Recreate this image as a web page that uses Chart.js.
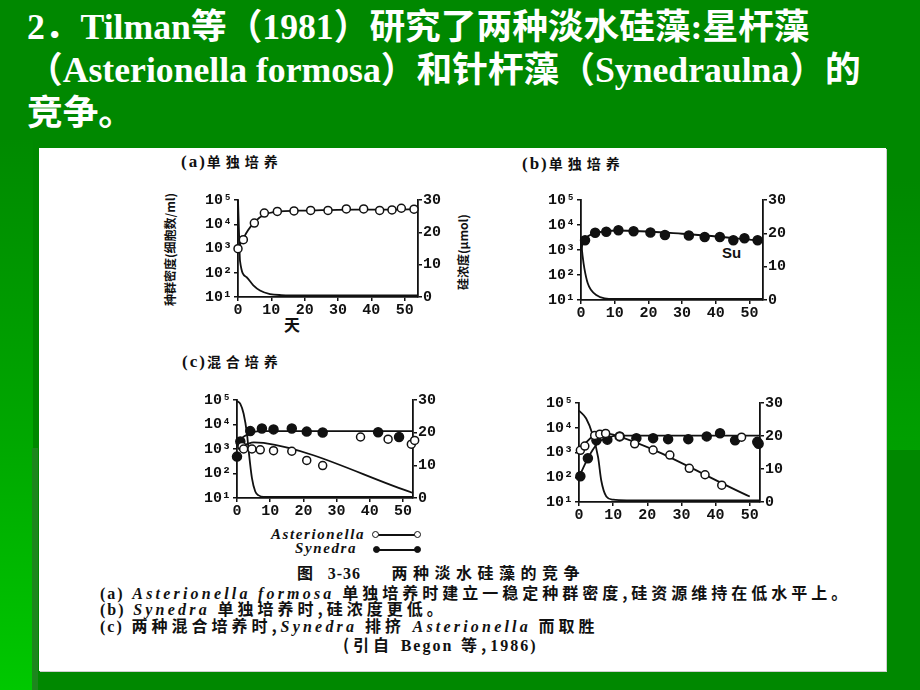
<!DOCTYPE html>
<html>
<head>
<meta charset="utf-8">
<script src="https://cdn.jsdelivr.net/npm/chart.js@4.4.1/dist/chart.umd.min.js"></script>
<style>
  body { margin: 0; background: #008800; }
  #slide { position: relative; width: 920px; height: 690px; overflow: hidden; background: #008800;
           font-family: "Liberation Serif", "Noto Sans CJK SC", serif; text-spacing-trim: space-all; }
  #leftStrip { position: absolute; left: 0; top: 140px; width: 33px; height: 550px;
               background: linear-gradient(#008a00, #00a800 55%, #00c800); }
  #darkStripe { position: absolute; left: 32px; top: 448px; width: 6px; height: 242px; background: #1d861d; }
  #rightStrip { position: absolute; left: 887px; top: 180px; width: 33px; height: 270px;
                background: linear-gradient(#008800, #00a000); }
  .title { position: absolute; left: 27px; color: #fff; font-weight: bold; font-size: 35.7px; line-height: 36px; white-space: nowrap; }
  #paper { position: absolute; left: 39px; top: 148px; width: 847px; height: 523px; background: #fff;
           box-shadow: 1px 1px 0 #cfcfcf; }
  canvas { position: absolute; }
  .t { position: absolute; white-space: nowrap; color: #111; font-weight: bold; }
  .lab { font-family: "Noto Sans CJK SC", sans-serif; font-size: 14px; line-height: 14px; letter-spacing: 5px; }
  .lab b { font-family: "Liberation Serif"; font-size: 17px; letter-spacing: 2px; }
  .vert { transform-origin: 0 0; transform: rotate(-90deg); font-family: "Noto Sans CJK SC", sans-serif; font-size: 12px; line-height: 12px; }
  .cap { font-family: "Noto Sans CJK SC", sans-serif; font-size: 16px; line-height: 16px; letter-spacing: 4px; }
  .cap i { font-family: "Liberation Serif"; font-size: 16px; letter-spacing: 3.2px; }
  .cap b { font-family: "Liberation Serif"; font-size: 16px; letter-spacing: 2px; }
  .leg { font-family: "Liberation Serif"; font-size: 15px; line-height: 15px; font-style: italic; letter-spacing: 1.6px; }
  .sym { position: absolute; height: 1.5px; background: #111; }
  .dot { position: absolute; width: 5px; height: 5px; border: 1.5px solid #111; border-radius: 50%; background: #fff; }
  .dot.f { background: #111; }
</style>
</head>
<body>
<div id="slide">
  <div id="leftStrip"></div>
  <div id="darkStripe"></div>
  <div id="rightStrip"></div>
  <div class="title" style="top:9px">2．Tilman等（1981）研究了两种淡水硅藻:星杆藻</div>
  <div class="title" style="top:52px">（Asterionella formosa）和针杆藻（Synedraulna）的</div>
  <div class="title" style="top:95px">竞争。</div>
  <div id="paper"></div>

  <div class="t lab" style="left:181px;top:154px"><b>(a)</b>单独培养</div>
  <div class="t lab" style="left:522px;top:156px"><b>(b)</b>单独培养</div>
  <div class="t lab" style="left:182px;top:354px"><b>(c)</b>混合培养</div>
  <div class="t vert" style="left:164px;top:306px">种群密度(细胞数/ml)</div>
  <div class="t vert" style="left:457px;top:290px">硅浓度(μmol)</div>
  <div class="t lab" style="left:284px;top:317px;font-size:16px">天</div>
  <div class="t" style="left:722px;top:244px;font-family:'Liberation Sans';font-size:15px">Su</div>

  <canvas id="chartA"></canvas>
  <canvas id="chartB"></canvas>
  <canvas id="chartC"></canvas>
  <canvas id="chartD"></canvas>

  <div class="t leg" style="left:271px;top:527px">Asterionella</div>
  <div class="sym" style="left:376px;top:534px;width:41px"></div>
  <div class="dot" style="left:372px;top:531px"></div>
  <div class="dot" style="left:414px;top:531px"></div>
  <div class="t leg" style="left:295px;top:541px">Synedra</div>
  <div class="sym" style="left:377px;top:549px;width:42px"></div>
  <div class="dot f" style="left:373px;top:546px"></div>
  <div class="dot f" style="left:414px;top:546px"></div>

  <div class="t cap" style="left:297px;top:564px;letter-spacing:5.5px">图 <b style="letter-spacing:1px">3-36</b>　 两种淡水硅藻的竞争</div>
  <div class="t cap" style="left:100px;top:584px"><b>(a)</b> <i>Asterionella formosa</i> 单独培养时建立一稳定种群密度,硅资源维持在低水平上。</div>
  <div class="t cap" style="left:100px;top:600px"><b>(b)</b> <i>Synedra</i> 单独培养时,硅浓度更低。</div>
  <div class="t cap" style="left:100px;top:617px"><b>(c)</b> 两种混合培养时,<i>Synedra</i> 排挤 <i>Asterionella</i> 而取胜</div>
  <div class="t cap" style="left:343px;top:636px">(引自 <b>Begon</b> 等,<b>1986)</b></div>
</div>

<script>
"use strict";
// shared axes
const dayTicks = [0, 10, 20, 30, 40, 50];
const logTickValues = [10, 100, 1000, 10000, 100000];
const logTickLabels = ["10¹", "10²", "10³", "10⁴", "10⁵"];
const siTicks = [0, 10, 20, 30];

// (a) Asterionella alone
const astAloneDays = [0, 1.6, 4.9, 7.9, 11.8, 16.8, 21.8, 27, 32.5, 37.7, 42.5, 46.2, 49, 52.8];
const astAloneCells = [980, 2300, 11200, 28800, 33900, 35500, 37200, 37200, 42700, 42700, 37200, 38900, 45700, 41700];
const astAloneFitDays = [0, 1, 3, 5, 8, 12, 18, 25, 35, 45, 54];
const astAloneFitCells = [1000, 1800, 5600, 12600, 25100, 33100, 36300, 38000, 39800, 39800, 41700];
const siAloneADays = [0, 0.3, 0.6, 2.6, 4.6, 6.6, 9.6, 13, 20, 54];
const siAloneA = [30, 20, 11.2, 6.1, 3.6, 2.0, 0.9, 0.6, 0.5, 0.5];

// (b) Synedra alone
const synAloneDays = [1.2, 4.2, 7.5, 11.1, 15.6, 20.6, 24.9, 32, 36.7, 41.2, 45.2, 48.5, 52.4];
const synAloneCells = [2450, 4900, 5370, 6170, 5620, 5010, 3980, 3800, 3310, 3310, 2450, 2950, 2450];
const synAloneFitDays = [0, 0.6, 2.2, 4.7, 10.6, 30, 54];
const synAloneFitCells = [930, 2000, 3630, 4900, 6030, 4470, 2340];
const siAloneBDays = [0, 0.5, 1, 2, 3, 4.5, 7, 10, 54];
const siAloneB = [18, 13, 9.5, 5, 3, 1.5, 0.5, 0.3, 0.3];

// (c) mixed culture, left
const astMixCDays = [1.5, 2, 4.5, 7, 11, 16.5, 21, 25.8, 37.2, 45.5, 52.5, 53.5];
const astMixCCells = [1260, 1000, 1000, 930, 850, 810, 340, 210, 3090, 2510, 1580, 2240];
const synMixCDays = [0, 1, 4, 7.5, 11, 16.5, 21, 25.8, 42.5, 48.8];
const synMixCCells = [490, 2040, 5370, 6920, 6310, 6920, 5130, 4680, 4790, 3090];
const synFitCDays = [0, 2, 4, 6, 8, 53];
const synFitCCells = [2140, 3160, 4470, 5250, 5370, 5370];
const astFitCDays = [0.5, 3, 5, 8, 53];
const astFitCCells = [1180, 1580, 1860, 1780, 16];
const siMixCDays = [0, 1, 2, 3, 3.5, 4.5, 5.5, 6.5, 8, 53];
const siMixC = [29.7, 28.8, 25.8, 19.7, 14.6, 6.1, 2.0, 0.8, 0.3, 0.3];

// (c) mixed culture, right
const astMixDDays = [0.4, 1.7, 4.6, 6.1, 7.8, 11.9, 16.3, 21.7, 26.6, 32.3, 36.9, 41.8, 47.6];
const astMixDCells = [1230, 1820, 4900, 5500, 5890, 4470, 2240, 1260, 790, 230, 126, 48, 4170];
const synMixDDays = [0.4, 2.6, 5.1, 8.3, 11.9, 16.8, 21.7, 26.1, 32, 37.4, 41.3, 45.7, 52.2, 52.6];
const synMixDCells = [110, 590, 3090, 3310, 4470, 3800, 3800, 3470, 3470, 4470, 6030, 3090, 2690, 2240];
const synFitDDays = [0, 2, 4, 6, 9, 11, 53];
const synFitDCells = [100, 400, 1260, 2820, 4170, 4790, 4790];
const astFitDDays = [0, 2, 4, 7, 10, 50];
const astFitDCells = [1260, 2510, 4470, 6030, 5250, 16.6];
const siMixDDays = [0, 2.1, 4, 5.6, 6.5, 8, 10, 14, 53];
const siMixD = [27.7, 25.3, 20.4, 13.5, 6.6, 1.7, 0.7, 0.5, 0.5];

const INK = "#111";
const tickFont = { family: "'Liberation Mono', 'DejaVu Sans Mono', monospace", size: 15, weight: "bold" };

function pts(xs, ys) {
  return xs.map((x, i) => ({ x: x, y: ys[i] }));
}
function markers(xs, ys, filled) {
  return {
    data: pts(xs, ys), showLine: false, yAxisID: "y", clip: false,
    pointRadius: filled ? 4.5 : 4, pointBorderWidth: 1.5,
    pointBorderColor: INK, pointBackgroundColor: filled ? INK : "#fff",
  };
}
function curve(xs, ys, axis) {
  return {
    data: pts(xs, ys), yAxisID: axis, borderColor: INK, borderWidth: 1.8,
    pointRadius: 0, cubicInterpolationMode: "monotone", fill: false, clip: false,
  };
}
function fixedTicks(list) {
  return (s) => { s.ticks = list.map((v) => ({ value: v })); };
}

function panel(id, box, xMax, datasets) {
  const L = 46, R = 30, B = 22, T = 9, P = 4;
  const cv = document.getElementById(id);
  cv.width = box.right - box.left + L + R + P;
  cv.height = box.bottom - box.top + T + B;
  cv.style.left = box.left - L + "px";
  cv.style.top = box.top - T + "px";
  const axisGrid = { drawOnChartArea: false, color: INK, lineWidth: 1.5, tickLength: 4 };
  const axisBorder = { color: INK, width: 1.8 };
  new Chart(cv, {
    type: "line",
    data: { datasets: datasets },
    options: {
      responsive: false,
      animation: false,
      layout: { padding: { top: T, right: P, left: 0, bottom: 0 } },
      plugins: { legend: { display: false }, tooltip: { enabled: false } },
      scales: {
        x: {
          type: "linear", min: 0, max: xMax,
          afterBuildTicks: fixedTicks(dayTicks),
          ticks: { color: INK, font: tickFont, padding: 0, maxRotation: 0, autoSkip: false },
          grid: axisGrid, border: axisBorder,
          afterFit: (s) => { s.height = B; },
        },
        y: {
          type: "logarithmic", position: "left", min: 10, max: 100000,
          afterBuildTicks: fixedTicks(logTickValues),
          ticks: {
            color: INK, font: tickFont, padding: 2, autoSkip: false,
            callback: (v) => logTickLabels[logTickValues.indexOf(v)] || "",
          },
          grid: axisGrid, border: axisBorder,
          afterFit: (s) => { s.width = L; },
        },
        y2: {
          type: "linear", position: "right", min: 0, max: 30,
          afterBuildTicks: fixedTicks(siTicks),
          ticks: { color: INK, font: tickFont, padding: 1 },
          grid: axisGrid, border: axisBorder,
          afterFit: (s) => { s.width = R; },
        },
      },
    },
  });
}

panel("chartA", { left: 238, right: 418, top: 198, bottom: 297 }, 54, [
  markers(astAloneDays, astAloneCells, false),
  curve(astAloneFitDays, astAloneFitCells, "y"),
  curve(siAloneADays, siAloneA, "y2"),
]);
panel("chartB", { left: 581, right: 763, top: 198, bottom: 300 }, 54, [
  markers(synAloneDays, synAloneCells, true),
  curve(synAloneFitDays, synAloneFitCells, "y"),
  curve(siAloneBDays, siAloneB, "y2"),
]);
panel("chartC", { left: 237, right: 413, top: 398, bottom: 498 }, 53, [
  markers(astMixCDays, astMixCCells, false),
  markers(synMixCDays, synMixCCells, true),
  curve(synFitCDays, synFitCCells, "y"),
  curve(astFitCDays, astFitCCells, "y"),
  curve(siMixCDays, siMixC, "y2"),
]);
panel("chartD", { left: 579, right: 760, top: 401, bottom: 502 }, 53, [
  markers(astMixDDays, astMixDCells, false),
  markers(synMixDDays, synMixDCells, true),
  curve(synFitDDays, synFitDCells, "y"),
  curve(astFitDDays, astFitDCells, "y"),
  curve(siMixDDays, siMixD, "y2"),
]);
</script>
</body>
</html>
